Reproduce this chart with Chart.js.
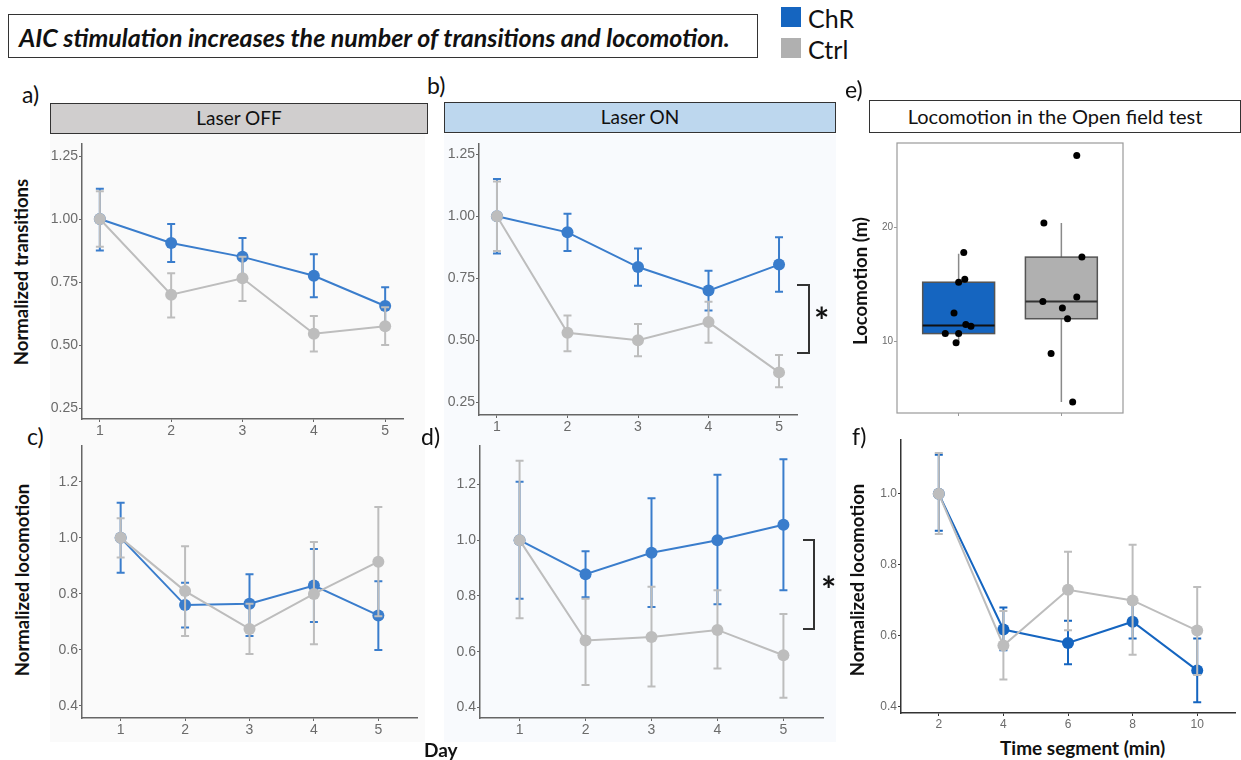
<!DOCTYPE html>
<html>
<head>
<meta charset="utf-8">
<script src="https://cdn.jsdelivr.net/npm/chart.js@4.4.0/dist/chart.umd.min.js"></script>
<style>
  body { margin: 0; background: #fff; }
  #fig { position: relative; width: 1241px; height: 760px; overflow: hidden; font-family: Lato, "Open Sans", sans-serif; color: #111; }
  .abs { position: absolute; }
  canvas { position: absolute; }
  .title { left: 8px; top: 14px; width: 750px; height: 44px; border: 1px solid #333; font-weight: bold; font-style: italic; font-size: 25px; line-height: 44px; padding-left: 10px; box-sizing: border-box; white-space: nowrap; }
  .key { width: 20px; height: 20px; }
  .keytxt { font-size: 25px; line-height: 24px; }
  .letter { font-size: 23px; line-height: 22px; z-index: 3; }
  .strip { height: 31px; border: 1.5px solid #333; box-sizing: border-box; font-size: 19px; line-height: 28px; text-align: center; }
  .ytitle { font-weight: bold; font-size: 18.5px; white-space: nowrap; transform: translate(-50%, -50%) rotate(-90deg); z-index: 2; }
  .xtitle { font-weight: bold; font-size: 19px; white-space: nowrap; }
  .bracket { border: 2px solid #333; border-left: none; box-sizing: border-box; z-index: 2; }
  .star { font-weight: bold; font-size: 36px; line-height: 36px; z-index: 2; }
</style>
</head>
<body>
<div id="fig">
  <div class="abs title">AIC stimulation increases the number of transitions and locomotion.</div>
  <div class="abs key" style="left:781px; top:7px; background:#1565c0"></div>
  <div class="abs keytxt" style="left:808px; top:6px">ChR</div>
  <div class="abs key" style="left:781px; top:38px; background:#b0b0b0"></div>
  <div class="abs keytxt" style="left:808px; top:37px">Ctrl</div>

  <div class="abs letter" style="left:22px; top:83px">a)</div>
  <div class="abs letter" style="left:427px; top:74px">b)</div>
  <div class="abs letter" style="left:27px; top:425px">c)</div>
  <div class="abs letter" style="left:421px; top:425px">d)</div>
  <div class="abs letter" style="left:845px; top:78px">e)</div>
  <div class="abs letter" style="left:852px; top:425px">f)</div>

  <div class="abs strip" style="left:50px; top:103px; width:378px; background:#d0cece">Laser OFF</div>
  <div class="abs strip" style="left:444px; top:102px; width:392px; background:#bdd7ee">Laser ON</div>
  <div class="abs strip" style="left:869px; top:100px; width:372px; height:33px; background:#fff; line-height:30px; font-size:20px">Locomotion in the Open field test</div>

  <canvas id="panelA" width="375" height="302" style="left:50px; top:134px; background:#fafafa"></canvas>
  <canvas id="panelB" width="392" height="302" style="left:444px; top:134px; background:#f8fafd"></canvas>
  <canvas id="panelC" width="375" height="306" style="left:50px; top:436px; background:#fafafa"></canvas>
  <canvas id="panelD" width="392" height="306" style="left:444px; top:436px; background:#f8fafd"></canvas>
  <canvas id="panelE" width="270" height="285" style="left:860px; top:136px"></canvas>
  <canvas id="panelF" width="381" height="300" style="left:860px; top:432px"></canvas>

  <div class="abs ytitle" style="left:21px; top:272px">Normalized transitions</div>
  <div class="abs ytitle" style="left:22px; top:580px">Normalized locomotion</div>
  <div class="abs ytitle" style="left:860px; top:281px">Locomotion (m)</div>
  <div class="abs ytitle" style="left:857px; top:580px">Normalized locomotion</div>
  <div class="abs xtitle" style="left:424px; top:738px">Day</div>
  <div class="abs xtitle" style="left:1000px; top:736px">Time segment (min)</div>

  <div class="abs bracket" style="left:797px; top:284px; width:13px; height:70px"></div>
  <div class="abs star" style="left:814px; top:302px">*</div>
  <div class="abs bracket" style="left:803px; top:539px; width:12px; height:91px"></div>
  <div class="abs star" style="left:821px; top:571px">*</div>
</div>

<script>
const days = [1, 2, 3, 4, 5];
const segments = [2, 4, 6, 8, 10];

// a) transitions, laser off
const transOffChR = [1.00, 0.905, 0.85, 0.775, 0.655];
const transOffChRHi = [1.12, 0.98, 0.925, 0.86, 0.73];
const transOffChRLo = [0.875, 0.83, 0.775, 0.69, 0.58];
const transOffCtrl = [1.00, 0.70, 0.765, 0.545, 0.575];
const transOffCtrlHi = [1.11, 0.785, 0.85, 0.615, 0.65];
const transOffCtrlLo = [0.89, 0.61, 0.675, 0.475, 0.50];

// b) transitions, laser on
const transOnChR = [1.00, 0.935, 0.795, 0.70, 0.805];
const transOnChRHi = [1.15, 1.01, 0.87, 0.78, 0.915];
const transOnChRLo = [0.85, 0.86, 0.72, 0.62, 0.695];
const transOnCtrl = [1.00, 0.53, 0.50, 0.573, 0.37];
const transOnCtrlHi = [1.14, 0.60, 0.565, 0.655, 0.44];
const transOnCtrlLo = [0.86, 0.455, 0.435, 0.49, 0.31];

// c) locomotion, laser off
const locoOffChR = [1.00, 0.76, 0.765, 0.83, 0.723];
const locoOffChRHi = [1.125, 0.84, 0.87, 0.96, 0.845];
const locoOffChRLo = [0.875, 0.68, 0.65, 0.70, 0.60];
const locoOffCtrl = [1.00, 0.81, 0.675, 0.80, 0.915];
const locoOffCtrlHi = [1.07, 0.97, 0.765, 0.985, 1.11];
const locoOffCtrlLo = [0.93, 0.65, 0.585, 0.62, 0.72];

// d) locomotion, laser on
const locoOnChR = [1.00, 0.878, 0.955, 1.00, 1.055];
const locoOnChRHi = [1.21, 0.96, 1.15, 1.235, 1.29];
const locoOnChRLo = [0.79, 0.795, 0.76, 0.77, 0.82];
const locoOnCtrl = [1.00, 0.64, 0.653, 0.678, 0.587];
const locoOnCtrlHi = [1.285, 0.79, 0.833, 0.82, 0.735];
const locoOnCtrlLo = [0.72, 0.48, 0.475, 0.54, 0.435];

// e) open field, box stats + individual animals
const boxGroups = ["ChR", "Ctrl"];
const boxLow = [9.9, 4.7];
const boxQ1 = [10.7, 12.0];
const boxMedian = [11.4, 13.5];
const boxQ3 = [15.2, 17.4];
const boxHigh = [17.7, 20.4];
const chrJitter = [1.05, 1.06, 1.00, 0.955, 1.07, 1.12, 0.87, 1.00, 0.975];
const chrMeters = [17.8, 15.45, 15.2, 12.5, 11.5, 11.35, 10.7, 10.7, 9.9];
const ctrlJitter = [2.15, 1.83, 2.20, 1.82, 2.15, 2.01, 2.06, 1.90, 2.11];
const ctrlMeters = [26.3, 20.4, 17.4, 13.5, 13.9, 12.95, 12.0, 8.95, 4.7];

// f) locomotion per time segment
const segChR = [1.00, 0.618, 0.58, 0.64, 0.503];
const segChRHi = [1.11, 0.68, 0.643, 0.69, 0.593];
const segChRLo = [0.896, 0.56, 0.52, 0.593, 0.413];
const segCtrl = [1.00, 0.573, 0.73, 0.70, 0.615];
const segCtrlHi = [1.115, 0.67, 0.837, 0.857, 0.738];
const segCtrlLo = [0.887, 0.477, 0.616, 0.547, 0.49];

const BLUE = "#3a7dcc";
const BLUE_DARK = "#1565c0";
const GREY = "#bdbdbd";

const errorBars = {
    id: "errorBars",
    beforeDatasetDraw(chart, args) {
        const ds = chart.data.datasets[args.index];
        if (!ds.errHi) return;
        const y = chart.scales.y;
        const ctx = chart.ctx;
        ctx.save();
        ctx.strokeStyle = ds.borderColor;
        ctx.lineWidth = 2;
        args.meta.data.forEach((pt, i) => {
            const top = y.getPixelForValue(ds.errHi[i]);
            const bot = y.getPixelForValue(ds.errLo[i]);
            ctx.beginPath();
            ctx.moveTo(pt.x, top); ctx.lineTo(pt.x, bot);
            ctx.moveTo(pt.x - 4, top); ctx.lineTo(pt.x + 4, top);
            ctx.moveTo(pt.x - 4, bot); ctx.lineTo(pt.x + 4, bot);
            ctx.stroke();
        });
        ctx.restore();
    }
};

function series(xs, vals, hi, lo, color, order) {
    return {
        data: xs.map((x, i) => ({x: x, y: vals[i]})),
        errHi: hi,
        errLo: lo,
        borderColor: color,
        backgroundColor: color,
        borderWidth: 2,
        pointRadius: 6,
        pointHoverRadius: 6,
        pointBorderWidth: 0,
        clip: false,
        order: order
    };
}

// canvas rect and plot area are in page pixels
function lineChart(id, rect, area, datasets, xr, yr, opts) {
    opts = opts || {};
    const axisColor = opts.axisColor || "#666";
    new Chart(document.getElementById(id), {
        type: "line",
        data: {datasets: datasets},
        plugins: [errorBars],
        options: {
            responsive: false,
            animation: false,
            events: [],
            layout: {padding: {top: area.t - rect.y, right: rect.x + rect.w - area.r, left: 0, bottom: 0}},
            plugins: {legend: {display: false}, tooltip: {enabled: false}},
            scales: {
                x: {
                    type: "linear", min: xr[0], max: xr[1],
                    afterFit: s => { s.height = rect.y + rect.h - area.b; },
                    afterBuildTicks: s => { s.ticks = xr[2].map(v => ({value: v})); },
                    border: {display: true, color: axisColor, width: 1.5},
                    grid: {drawOnChartArea: false, drawTicks: true, tickLength: 3, color: axisColor},
                    ticks: {color: "#6b6b6b", padding: 1, font: {family: "Liberation Sans", size: opts.fontSize || 14}, maxRotation: 0}
                },
                y: {
                    min: yr[0], max: yr[1],
                    afterFit: s => { s.width = area.l - rect.x; },
                    afterBuildTicks: s => { s.ticks = yr[2].map(v => ({value: v})); },
                    border: {display: true, color: axisColor, width: 1.5},
                    grid: {drawOnChartArea: false, drawTicks: true, tickLength: 3, color: axisColor},
                    ticks: {color: "#6b6b6b", padding: 1, font: {family: "Liberation Sans", size: opts.fontSize || 14},
                        callback: v => v.toFixed(yr[3])}
                }
            }
        }
    });
}

lineChart("panelA", {x: 50, y: 134, w: 375, h: 302}, {l: 82, t: 143, r: 403, b: 419}, [
    series(days, transOffChR, transOffChRHi, transOffChRLo, BLUE, 2),
    series(days, transOffCtrl, transOffCtrlHi, transOffCtrlLo, GREY, 1)
], [0.75, 5.25, days], [0.207, 1.30, [0.25, 0.5, 0.75, 1.0, 1.25], 2]);

lineChart("panelB", {x: 444, y: 134, w: 392, h: 302}, {l: 479, t: 143, r: 797, b: 415}, [
    series(days, transOnChR, transOnChRHi, transOnChRLo, BLUE, 2),
    series(days, transOnCtrl, transOnCtrlHi, transOnCtrlLo, GREY, 1)
], [0.745, 5.255, days], [0.198, 1.294, [0.25, 0.5, 0.75, 1.0, 1.25], 2]);

lineChart("panelC", {x: 50, y: 436, w: 375, h: 306}, {l: 82, t: 444, r: 417, b: 718}, [
    series(days, locoOffChR, locoOffChRHi, locoOffChRLo, BLUE, 2),
    series(days, locoOffCtrl, locoOffCtrlHi, locoOffCtrlLo, GREY, 1)
], [0.4, 5.6, days], [0.357, 1.33, [0.4, 0.6, 0.8, 1.0, 1.2], 1]);

lineChart("panelD", {x: 444, y: 436, w: 392, h: 306}, {l: 480, t: 436, r: 823, b: 718}, [
    series(days, locoOnChR, locoOnChRHi, locoOnChRLo, BLUE, 2),
    series(days, locoOnCtrl, locoOnCtrlHi, locoOnCtrlLo, GREY, 1)
], [0.4, 5.6, days], [0.362, 1.34, [0.4, 0.6, 0.8, 1.0, 1.2], 1]);

lineChart("panelF", {x: 860, y: 432, w: 381, h: 300}, {l: 901, t: 439, r: 1236, b: 713}, [
    series(segments, segChR, segChRHi, segChRLo, BLUE_DARK, 2),
    series(segments, segCtrl, segCtrlHi, segCtrlLo, GREY, 1)
], [0.83, 11.17, segments], [0.383, 1.151, [0.4, 0.6, 0.8, 1.0], 1], {axisColor: "#333", fontSize: 12});

// box plot: boxes and whiskers under the jittered points, frame on top
const boxPlot = {
    id: "boxPlot",
    beforeDatasetsDraw(chart) {
        const x = chart.scales.x, y = chart.scales.y, ctx = chart.ctx;
        const fills = [BLUE_DARK, "#b0b0b0"];
        boxGroups.forEach((g, i) => {
            const cx = x.getPixelForValue(i + 1);
            const half = x.getPixelForValue(i + 1.35) - cx;
            ctx.save();
            ctx.strokeStyle = "#8a8a8a";
            ctx.lineWidth = 1.5;
            ctx.beginPath();
            ctx.moveTo(cx, y.getPixelForValue(boxHigh[i])); ctx.lineTo(cx, y.getPixelForValue(boxQ3[i]));
            ctx.moveTo(cx, y.getPixelForValue(boxQ1[i])); ctx.lineTo(cx, y.getPixelForValue(boxLow[i]));
            ctx.stroke();
            const top = y.getPixelForValue(boxQ3[i]), bot = y.getPixelForValue(boxQ1[i]);
            ctx.fillStyle = fills[i];
            ctx.fillRect(cx - half, top, half * 2, bot - top);
            ctx.strokeStyle = "#555";
            ctx.strokeRect(cx - half, top, half * 2, bot - top);
            const med = y.getPixelForValue(boxMedian[i]);
            ctx.strokeStyle = i == 0 ? "#111" : "#333";
            ctx.lineWidth = 2;
            ctx.beginPath();
            ctx.moveTo(cx - half, med); ctx.lineTo(cx + half, med);
            ctx.stroke();
            ctx.restore();
        });
    },
    afterDraw(chart) {
        const a = chart.chartArea, ctx = chart.ctx;
        ctx.save();
        ctx.strokeStyle = "#9a9a9a";
        ctx.lineWidth = 1.2;
        ctx.strokeRect(a.left, a.top, a.right - a.left, a.bottom - a.top);
        ctx.restore();
    }
};

(function () {
    const rect = {x: 860, y: 136, w: 270, h: 285};
    const area = {l: 897, t: 141, r: 1123, b: 413};
    const pts = chrJitter.map((x, i) => ({x: x, y: chrMeters[i]}))
        .concat(ctrlJitter.map((x, i) => ({x: x, y: ctrlMeters[i]})));
    new Chart(document.getElementById("panelE"), {
        type: "scatter",
        data: {datasets: [{data: pts, backgroundColor: "#000", borderWidth: 0, pointRadius: 3.5, clip: false}]},
        plugins: [boxPlot],
        options: {
            responsive: false,
            animation: false,
            events: [],
            layout: {padding: {top: area.t - rect.y, right: rect.x + rect.w - area.r, left: 0, bottom: 0}},
            plugins: {legend: {display: false}, tooltip: {enabled: false}},
            scales: {
                x: {
                    type: "linear", min: 0.4, max: 2.6,
                    afterFit: s => { s.height = rect.y + rect.h - area.b; },
                    afterBuildTicks: s => { s.ticks = [{value: 1}, {value: 2}]; },
                    border: {display: false},
                    grid: {drawOnChartArea: false, drawTicks: true, tickLength: 3, color: "#999"},
                    ticks: {callback: () => ""}
                },
                y: {
                    min: 3.74, max: 27.4,
                    afterFit: s => { s.width = area.l - rect.x; },
                    afterBuildTicks: s => { s.ticks = [{value: 10}, {value: 20}]; },
                    border: {display: false},
                    grid: {drawOnChartArea: false, drawTicks: true, tickLength: 3, color: "#999"},
                    ticks: {color: "#6b6b6b", padding: 1, font: {family: "Liberation Sans", size: 10}}
                }
            }
        }
    });
})();
</script>
</body>
</html>
